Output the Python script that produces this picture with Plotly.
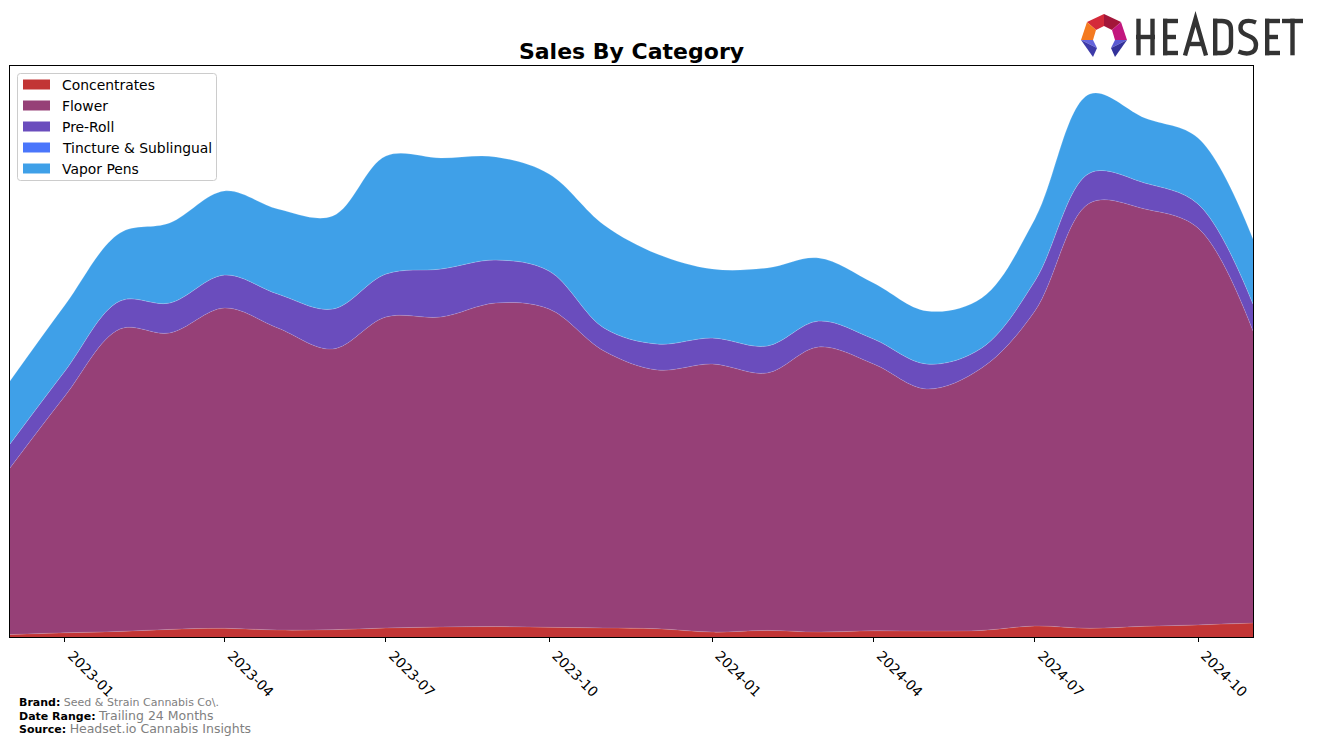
import plotly.graph_objects as go

# ---------------- data (monthly, arbitrary sales units) ----------------
months = ["2022-12-01", "2023-01-01", "2023-02-01", "2023-03-01", "2023-04-01", "2023-05-01",
          "2023-06-01", "2023-07-01", "2023-08-01", "2023-09-01", "2023-10-01", "2023-11-01",
          "2023-12-01", "2024-01-01", "2024-02-01", "2024-03-01", "2024-04-01", "2024-05-01",
          "2024-06-01", "2024-07-01", "2024-08-01", "2024-09-01", "2024-10-01", "2024-11-01"]

concentrates = [2.4, 4.2, 5.6, 7.6, 8.7, 6.9, 7.3, 9.0, 10.0, 10.4, 9.7, 9.0,
                8.3, 4.9, 6.6, 4.9, 6.2, 5.9, 6.6, 11.0, 8.7, 10.7, 12.1, 13.9]
flower = [166.6, 236.8, 302.4, 296.4, 320.3, 302.1, 280.7, 311.0, 310.0, 323.6, 318.3, 277.0,
          258.7, 268.1, 257.4, 285.1, 266.8, 242.1, 262.4, 315.0, 425.3, 417.3, 396.9, 292.1]
pre_roll = [24, 25, 28, 30, 33, 34, 40, 43, 48, 43, 38, 23,
            26, 26, 27, 26, 25, 25, 20, 30, 30, 26, 24, 27]
tincture = [0, 0, 0, 0, 0, 0, 0, 0, 0, 0, 0, 0,
            0, 0, 0, 0, 0, 0, 0, 0, 0, 0, 0, 0]
vapor_pens = [63, 66, 68, 80, 84, 85, 93, 118, 111, 103, 97, 103,
              90, 69, 78, 63, 56, 53, 50, 62, 79, 65, 66, 65]

series_names = ["Concentrates", "Flower", "Pre-Roll", "Tincture & Sublingual", "Vapor Pens"]
series_colors = ["#c23535", "#964077", "#6a4dbd", "#4a76fb", "#3fa0e8"]
series_values = [concentrates, flower, pre_roll, tincture, vapor_pens]

tick_vals = ["2023-01-01", "2023-04-01", "2023-07-01", "2023-10-01",
             "2024-01-01", "2024-04-01", "2024-07-01", "2024-10-01"]
tick_text = ["2023-01", "2023-04", "2023-07", "2023-10",
             "2024-01", "2024-04", "2024-07", "2024-10"]

# ---------------- layout geometry ----------------
W, H = 1317, 744
L, R, T, B = 10, 64, 66, 107
PW, PH = W - L - R, H - T - B


def fx(x):
    return (x - L) / PW


def fy(y):
    return (H - B - y) / PH


def px(x, y):
    """pixel -> paper coords string"""
    return f"{fx(x):.5f},{fy(y):.5f}"


fig = go.Figure()
for name, color, vals in zip(series_names, series_colors, series_values):
    fig.add_trace(go.Scatter(
        x=months, y=vals, name=name, mode="lines",
        stackgroup="one", fillcolor=color, showlegend=False,
        line=dict(color="rgba(255,255,255,0.25)", width=0.6, shape="spline", smoothing=1.0),
        hoverinfo="x+y+name",
    ))

shapes = []
annotations = []

# ---- manual legend (matplotlib style) ----
lx0, ly0, lx1, ly1, r = 17.5, 73.5, 216.5, 180.5, 3
box = ("M " + px(lx0 + r, ly0) + " L " + px(lx1 - r, ly0) + " Q " + px(lx1, ly0) + " " + px(lx1, ly0 + r)
       + " L " + px(lx1, ly1 - r) + " Q " + px(lx1, ly1) + " " + px(lx1 - r, ly1)
       + " L " + px(lx0 + r, ly1) + " Q " + px(lx0, ly1) + " " + px(lx0, ly1 - r)
       + " L " + px(lx0, ly0 + r) + " Q " + px(lx0, ly0) + " " + px(lx0 + r, ly0) + " Z")
shapes.append(dict(type="path", xref="paper", yref="paper", path=box,
                   fillcolor="white", line=dict(color="#cccccc", width=1), layer="above"))
for i, (name, color) in enumerate(zip(series_names, series_colors)):
    cy = 84.5 + 21 * i
    shapes.append(dict(type="rect", xref="paper", yref="paper",
                       x0=fx(23), x1=fx(50), y0=fy(cy - 5), y1=fy(cy + 5),
                       fillcolor=color, line=dict(width=0), layer="above"))
    annotations.append(dict(text=name.replace("&", "&amp;"), x=fx(60), y=fy(cy + 0.5),
                            xref="paper", yref="paper", xanchor="left", yanchor="middle",
                            showarrow=False, font=dict(size=13.9, family="DejaVu Sans", color="black")))

# ---- logo icon (polygons) ----
icon = [
    ([(1104, 14), (1087, 22), (1096, 30), (1104, 26)], "#d42a3a"),
    ([(1104, 14), (1121, 22), (1112, 30), (1104, 26)], "#a3163a"),
    ([(1087, 22), (1081, 40), (1093, 40), (1096, 30)], "#f47a20"),
    ([(1121, 22), (1127, 40), (1115, 40), (1112, 30)], "#c2177e"),
    ([(1081, 40), (1093, 40), (1097, 48)], "#6464dc"),
    ([(1081, 40), (1097, 48), (1093, 57)], "#3d3aa8"),
    ([(1127, 40), (1115, 40), (1111, 48)], "#5a5ad2"),
    ([(1127, 40), (1111, 48), (1115, 57)], "#33329a"),
]
for pts, col in icon:
    path = "M " + " L ".join(px(*p) for p in pts) + " Z"
    shapes.append(dict(type="path", xref="paper", yref="paper", path=path,
                       fillcolor=col, line=dict(width=0), layer="above"))


# ---- logo text strokes ----
def seg(*pts):
    return "M " + " L ".join(px(*p) for p in pts)


def E(x0):
    return [seg((x0 + 2.2, 18.7), (x0 + 2.2, 55.3)),
            seg((x0, 21), (x0 + 15, 21)),
            seg((x0, 37), (x0 + 13, 37)),
            seg((x0, 53), (x0 + 15, 53))]


letters = []
letters += [seg((1138.5, 18.7), (1138.5, 55.3)), seg((1152.5, 18.7), (1152.5, 55.3)),
            seg((1136, 37), (1155, 37))]
letters += E(1163)
letters += [seg((1185, 55.5), (1195.5, 19), (1206, 55.5)), seg((1189, 44), (1202, 44))]
letters += [seg((1215.2, 18.7), (1215.2, 55.3)),
            "M " + px(1213, 21) + " L " + px(1222, 21) + " Q " + px(1231, 21) + " " + px(1231, 30)
            + " L " + px(1231, 44) + " Q " + px(1231, 53) + " " + px(1222, 53) + " L " + px(1213, 53)]
letters += ["M " + px(1256, 22.5) + " C " + px(1250, 20) + " " + px(1240.5, 19.5) + " " + px(1240.5, 28)
            + " C " + px(1240.5, 37.5) + " " + px(1256, 33.5) + " " + px(1256, 45)
            + " C " + px(1256, 55) + " " + px(1245, 54.5) + " " + px(1238.5, 51.5)]
letters += E(1265)
letters += [seg((1282, 21), (1303, 21)), seg((1292.5, 18.7), (1292.5, 55.3))]
for p in letters:
    shapes.append(dict(type="path", xref="paper", yref="paper", path=p,
                       line=dict(color="#333333", width=4.4), layer="above"))

# ---- footer annotations ----
foot_x = fx(17)
footer = [
    ("<b>Brand:</b> <span style='color:#808080'>Seed &amp; Strain Cannabis Co\\.</span>", 702),
    ("<b>Date Range:</b> <span style='color:#808080;font-size:12.5px'>Trailing 24 Months</span>", 715),
    ("<b>Source:</b> <span style='color:#808080;font-size:12.5px'>Headset.io Cannabis Insights</span>", 728),
]
for text, yy in footer:
    annotations.append(dict(text=text, x=foot_x, y=fy(yy), xref="paper", yref="paper",
                            xanchor="left", yanchor="middle", showarrow=False, align="left",
                            font=dict(size=11, family="DejaVu Sans", color="black")))

fig.update_layout(
    width=W, height=H,
    margin=dict(l=L, r=R, t=T, b=B, pad=0),
    paper_bgcolor="white", plot_bgcolor="white",
    font=dict(family="DejaVu Sans", size=13.9, color="black"),
    title=dict(text="<b>Sales By Category</b>", x=(L + PW / 2) / W, xanchor="center",
               y=1 - 51 / H, yanchor="middle", yref="container",
               font=dict(family="DejaVu Sans", size=22, color="black")),
    showlegend=False,
    xaxis=dict(type="date", range=[months[0], months[-1]],
               tickvals=tick_vals, ticktext=tick_text, tickangle=45,
               ticks="outside", ticklen=4, tickwidth=1, tickcolor="black",
               ticklabelshift=7,
               showline=True, linecolor="black", linewidth=1, mirror=True,
               showgrid=False, zeroline=False,
               tickfont=dict(size=13.9, family="DejaVu Sans", color="black")),
    yaxis=dict(range=[0, PH], showticklabels=False, ticks="",
               showline=True, linecolor="black", linewidth=1, mirror=True,
               showgrid=False, zeroline=False),
    shapes=shapes,
    annotations=annotations,
)

fig.write_html("out.html")
